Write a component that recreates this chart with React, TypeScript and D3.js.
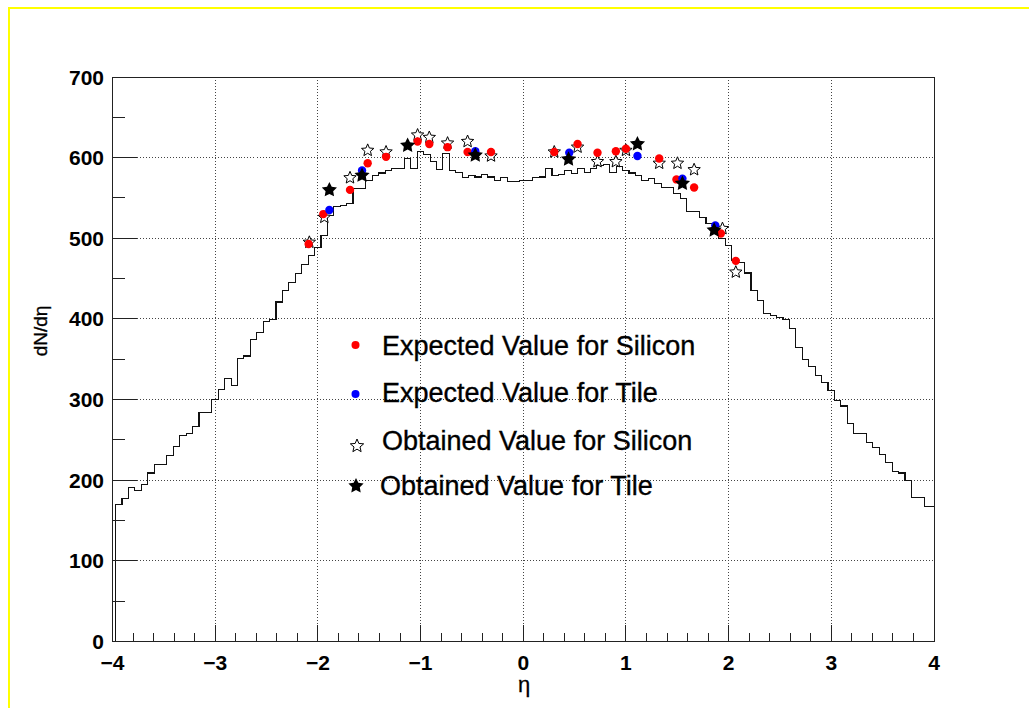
import React from "react";
import * as d3 from "d3";

// Histogram of dN/deta, uniform bins
const binStart = -3.97;
const binWidth = 0.0625;
const histValues = [
  170, 177, 191, 187, 195, 209, 219, 219, 231, 242,
  255, 258, 267, 284, 284, 300, 313, 326, 317, 351,
  354, 375, 383, 397, 399, 421, 435, 445, 456, 468,
  479, 489, 503, 528, 539, 541, 543, 562, 562, 572,
  578, 581, 584, 586, 586, 599, 586, 608, 604, 595,
  585, 605, 584, 582, 575, 578, 576, 579, 576, 572,
  575, 570, 570, 572,
  572, 575, 576, 586, 578, 579, 584, 580, 586, 582,
  586, 590, 591, 582, 589, 584, 581, 578, 572, 574,
  568, 563, 563, 555, 549, 533, 533, 526, 518, 509,
  500, 491, 473, 470, 457, 435, 423, 407, 404, 402,
  399, 388, 365, 350, 341, 330, 321, 311, 299, 292,
  270, 258, 258, 247, 241, 232, 222, 211, 209, 200,
  179, 179, 167, 167,
];

// Expected value for silicon
const expSiEta = [-2.09, -1.947, -1.687, -1.515, -1.336, -1.029, -0.915, -0.737, -0.542, -0.314, 0.302, 0.529, 0.723, 0.902, 1.0, 1.324, 1.492, 1.664, 1.924, 2.07];
const expSiVal = [493, 530, 560, 593, 601, 620, 617, 613, 607, 607, 607, 617, 606, 608, 611, 599, 573, 563, 506, 472];

// Expected value for tile
const expTileEta = [-1.888, -1.57, -0.467, 0.448, 1.112, 1.55, 1.87];
const expTileVal = [535, 584, 608, 606, 602, 574, 516];

// Obtained value for silicon
const obsSiEta = [-2.083, -1.937, -1.687, -1.515, -1.336, -1.029, -0.915, -0.737, -0.542, -0.314, 0.302, 0.529, 0.723, 0.902, 1.0, 1.324, 1.502, 1.664, 1.94, 2.07];
const obsSiVal = [495, 526, 575, 609, 607, 628, 625, 618, 620, 602, 607, 613, 595, 595, 609, 593, 593, 585, 512, 458];

// Obtained value for tile
const obsTileEta = [-1.888, -1.57, -1.126, -0.467, 0.441, 1.112, 1.55, 1.859];
const obsTileVal = [560, 578, 615, 603, 598, 617, 568, 510];

const xTicks = [-4, -3, -2, -1, 0, 1, 2, 3, 4];
const yTicks = [0, 100, 200, 300, 400, 500, 600, 700];

const legendLabels = [
  "Expected Value for Silicon",
  "Expected Value for Tile",
  "Obtained Value for Silicon",
  "Obtained Value for Tile",
];

const W = 1029;
const H = 708;
const FONT = "'Liberation Sans', Arial, Helvetica, sans-serif";

function starPath(cx: number, cy: number, R: number, ratio = 0.45) {
  const pts: [number, number][] = [];
  for (let k = 0; k < 10; k++) {
    const r = k % 2 === 0 ? R : R * ratio;
    const a = -Math.PI / 2 + (k * Math.PI) / 5;
    pts.push([cx + r * Math.cos(a), cy + r * Math.sin(a)]);
  }
  return "M" + pts.map((p) => p[0].toFixed(2) + "," + p[1].toFixed(2)).join("L") + "Z";
}

export default function App() {
  const x = d3.scaleLinear().domain([-4, 4]).range([112.5, 934]);
  const y = d3.scaleLinear().domain([0, 700]).range([641.5, 77]);

  // step outline of the histogram
  const pts: [number, number][] = [[x(binStart), y(0)]];
  histValues.forEach((v, i) => {
    const lo = binStart + i * binWidth;
    const hi = lo + binWidth;
    pts.push([x(lo), y(v)]);
    pts.push([x(hi), y(v)]);
  });
  pts.push([x(binStart + histValues.length * binWidth), y(0)]);
  const histPath = d3.line()(pts) as string;

  const x0 = x(-4);
  const x1 = x(4);
  const y0 = y(0);
  const y1 = y(700);

  const minorX = d3.range(-4, 4.001, 0.2).filter((v) => Math.abs(v - Math.round(v)) > 1e-6);
  const minorY = d3.range(50, 700, 100);

  const fmt = (v: number) => (v < 0 ? "\u2212" + Math.abs(v) : String(v));

  const legendRows = [
    { mx: 355.5, my: 345, ty: 355 },
    { mx: 355.5, my: 394, ty: 402 },
    { mx: 357, my: 446, ty: 450 },
    { mx: 356, my: 486, ty: 495 },
  ];

  return (
    <svg
      width={W}
      height={H}
      style={{ position: "absolute", left: 0, top: 0, background: "#fff" }}
      fontFamily={FONT}
    >
      <defs>
        <clipPath id="frameClip">
          <rect x={x0} y={y1} width={x1 - x0} height={y0 - y1} />
        </clipPath>
      </defs>

      {/* canvas border */}
      <rect x={9} y={8} width={W + 20} height={H + 20} fill="none" stroke="#ffff00" strokeWidth={2} />

      {/* grid */}
      <g stroke="#444" strokeWidth={1} strokeDasharray="1 2" shapeRendering="crispEdges">
        {xTicks.slice(1, -1).map((t) => (
          <line key={"gx" + t} x1={x(t)} x2={x(t)} y1={y0} y2={y1} />
        ))}
        {yTicks.slice(1, -1).map((t) => (
          <line key={"gy" + t} x1={x0} x2={x1} y1={y(t)} y2={y(t)} />
        ))}
      </g>

      {/* histogram */}
      <path
        d={histPath}
        fill="none"
        stroke="#111"
        strokeWidth={1.1}
        clipPath="url(#frameClip)"
        shapeRendering="crispEdges"
      />

      {/* frame */}
      <rect
        x={x0}
        y={y1}
        width={x1 - x0}
        height={y0 - y1}
        fill="none"
        stroke="#222"
        strokeWidth={1}
        shapeRendering="crispEdges"
      />

      {/* axis ticks */}
      <g stroke="#222" strokeWidth={1} shapeRendering="crispEdges">
        {xTicks.map((t) => (
          <line key={"tx" + t} x1={x(t)} x2={x(t)} y1={y0} y2={y0 - 17} />
        ))}
        {minorX.map((t) => (
          <line key={"mx" + t} x1={x(t)} x2={x(t)} y1={y0} y2={y0 - 8.5} />
        ))}
        {yTicks.map((t) => (
          <line key={"ty" + t} x1={x0} x2={x0 + 24} y1={y(t)} y2={y(t)} />
        ))}
        {minorY.map((t) => (
          <line key={"my" + t} x1={x0} x2={x0 + 12} y1={y(t)} y2={y(t)} />
        ))}
      </g>

      {/* tick labels */}
      <g fontSize={21} fontWeight="bold" fill="#000">
        {xTicks.map((t) => (
          <text key={"lx" + t} x={x(t)} y={670} textAnchor="middle">
            {fmt(t)}
          </text>
        ))}
        {yTicks.map((t) => (
          <text key={"ly" + t} x={104} y={y(t) + 7.5} textAnchor="end">
            {t}
          </text>
        ))}
      </g>

      {/* axis titles */}
      <text x={524} y={692} textAnchor="middle" fontSize={22} fill="#000" stroke="#000" strokeWidth={0.3}>
        η
      </text>
      <text
        transform="translate(47,331) rotate(-90)"
        textAnchor="middle"
        fontSize={19}
        fill="#000"
        stroke="#000"
        strokeWidth={0.35}
      >
        dN/dη
      </text>

      {/* markers */}
      <g clipPath="url(#frameClip)">
        {obsSiEta.map((e, i) => (
          <path key={"os" + i} d={starPath(x(e), y(obsSiVal[i]), 6.5)} fill="#fff" stroke="#000" strokeWidth={1} />
        ))}
        {expSiEta.map((e, i) => (
          <circle key={"es" + i} cx={x(e)} cy={y(expSiVal[i])} r={4.2} fill="#ff0000" />
        ))}
        {expTileEta.map((e, i) => (
          <circle key={"et" + i} cx={x(e)} cy={y(expTileVal[i])} r={4.2} fill="#0000ff" />
        ))}
        {obsTileEta.map((e, i) => (
          <path key={"ot" + i} d={starPath(x(e), y(obsTileVal[i]), 8, 0.5)} fill="#000" />
        ))}
      </g>

      {/* legend */}
      <g>
        <circle cx={legendRows[0].mx} cy={legendRows[0].my} r={4} fill="#ff0000" />
        <circle cx={legendRows[1].mx} cy={legendRows[1].my} r={4} fill="#0000ff" />
        <path d={starPath(legendRows[2].mx, legendRows[2].my, 7)} fill="#fff" stroke="#000" strokeWidth={1} />
        <path d={starPath(legendRows[3].mx, legendRows[3].my, 8, 0.5)} fill="#000" />
        {legendLabels.map((s, i) => (
          <text
            key={"lg" + i}
            x={i === 3 ? 380 : 382}
            y={legendRows[i].ty}
            fontSize={27}
            fill="#000"
            stroke="#000"
            strokeWidth={0.35}
          >
            {s}
          </text>
        ))}
      </g>
    </svg>
  );
}
